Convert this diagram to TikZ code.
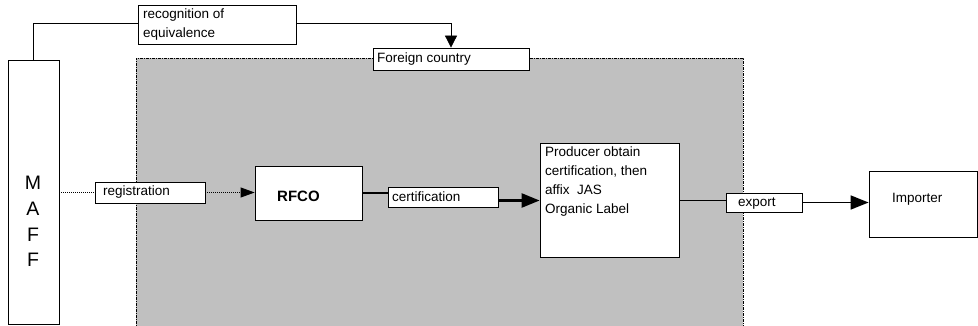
\documentclass[tikz,border=0pt]{standalone}
\usepackage{fontspec}
\setmainfont{Liberation Sans}
\usetikzlibrary{arrows.meta}
\definecolor{regiongray}{HTML}{C0C0C0}
\begin{document}
\begin{tikzpicture}[x=1pt,y=-1pt,
  box/.style={draw, fill=white, line width=0.8pt, inner sep=0pt, rectangle},
  txt/.style={inner sep=0pt, font=\fontsize{13.5}{18.5}\selectfont, align=left},
  thinline/.style={line width=0.8pt},
  dotline/.style={line width=0.8pt, dash pattern=on 1pt off 1pt},
  thickline/.style={line width=2.5pt},
  midline/.style={line width=1.6pt},
  smalltip/.style={-{Triangle[length=12pt,width=12pt]}},
  medtip/.style={-{Triangle[length=14pt,width=10pt]}},
  bigtip/.style={-{Triangle[length=18pt,width=14pt]}}]
\useasboundingbox (0,0) rectangle (978,326);
% foreign country region
\fill[regiongray] (136,58) rectangle (743,330);
\draw[line width=0.9pt, dash pattern=on 3pt off 1pt on 1pt off 1pt] (136,330) -- (136,58) -- (743,58) -- (743,330);
% boxes
\node[box, minimum width=51pt, minimum height=264pt] (maff) at (33.5,192) {};
\node[box, minimum width=158pt, minimum height=39pt] (rec) at (217,24.5) {};
\node[box, minimum width=156pt, minimum height=22pt] (fc) at (451,59) {};
\node[box, minimum width=110pt, minimum height=21pt] (reg) at (150,192.5) {};
\node[box, minimum width=107pt, minimum height=54pt] (rfco) at (308.5,193) {};
\node[box, minimum width=110pt, minimum height=20pt] (cert) at (443,197) {};
\node[box, minimum width=139pt, minimum height=114pt] (prod) at (609.5,200) {};
\node[box, minimum width=76pt, minimum height=19pt] (exp) at (764,202.5) {};
\node[box, minimum width=108pt, minimum height=66pt] (imp) at (923,204) {};
% texts
\node[txt, anchor=north, font=\fontsize{19.5}{25.7}\selectfont, align=center] (maffT) at (33,176) {M\\A\\F\\F};
\node[txt, anchor=north west] (recT) at (143,9) {recognition of\\equivalence};
\node[txt, anchor=base west] (fcT) at (377,63) {Foreign country};
\node[txt, anchor=base west] (regT) at (103,196) {registration};
\node[txt, anchor=base west, font=\fontsize{15}{18}\selectfont\bfseries] (rfcoT) at (277,201.5) {RFCO};
\node[txt, anchor=base west] (certT) at (392,201.5) {certification};
\node[txt, anchor=north west, font=\fontsize{13.5}{19}\selectfont] (prodT) at (545,147) {Producer obtain\\certification, then\\affix \ JAS\\Organic Label};
\node[txt, anchor=base west] (expT) at (738,207) {export};
\node[txt, anchor=base west] (impT) at (892,203) {Importer};
% connectors
\draw[thinline] (maff.north) -- ([yshift=1.5pt]maff.north |- rec.west) -- ([yshift=1.5pt]rec.west);
\draw[thinline, smalltip] ([yshift=1.5pt]rec.east) -| (fc.north);
\draw[dotline] (maff.east |- reg.west) -- (reg.west);
\draw[dotline, medtip] (reg.east) -- (reg.east -| rfco.west);
\draw[thickline] (rfco.east) -- (rfco.east -| cert.west);
\draw[thickline, bigtip] ([yshift=-3.5pt]cert.east) -- ([yshift=-3.5pt]cert.east -| prod.west);
\draw[midline] ([yshift=2pt]exp.west -| prod.east) -- ([yshift=2pt]exp.west);
\draw[midline, bigtip] (exp.east) -- (exp.east -| imp.west);
\end{tikzpicture}
\end{document}
